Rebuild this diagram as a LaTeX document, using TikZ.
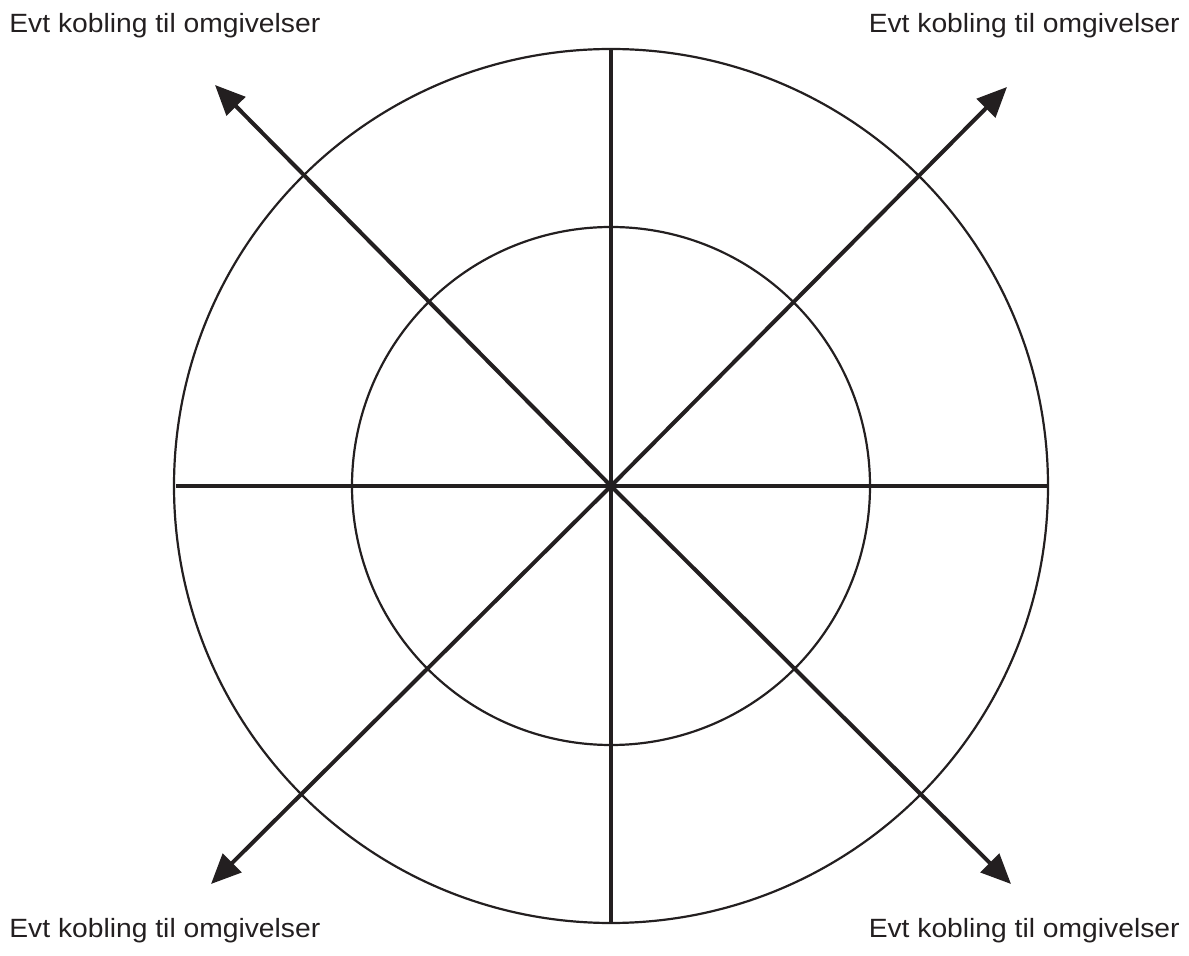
\documentclass[tikz,border=0pt]{standalone}
\usepackage{fontspec}
\setmainfont{Liberation Sans}[FakeStretch=1.07]
\usetikzlibrary{arrows.meta}
\definecolor{ink}{HTML}{231F20}
\begin{document}
\begin{tikzpicture}[x=0.5pt,y=-0.5pt,
  ring/.style={draw=ink,line width=1.1pt},
  spoke/.style={draw=ink,line width=2pt},
  ray/.style={draw=ink,line width=2pt,-{Triangle[length=15pt,width=13pt]}},
  lab/.style={text=ink,font=\fontsize{13.2pt}{15pt}\selectfont,inner sep=0pt}]
\useasboundingbox (0,0) rectangle (1189,956);
\coordinate (c) at (611,486);
\draw[ring] (c) circle[radius=218.5pt];
\draw[ring] (c) circle[radius=129.5pt];
\coordinate (t) at (611,50);
\coordinate (b) at (611,923);
\coordinate (l) at (176,486);
\coordinate (r) at (1049,486);
\draw[spoke] (t) -- (b);
\draw[spoke] (l) -- (r);
\coordinate (tl) at (215,85);
\coordinate (tr) at (1007,87);
\coordinate (bl) at (211,884);
\coordinate (br) at (1011,884);
\draw[ray] (c) -- (tl);
\draw[ray] (c) -- (tr);
\draw[ray] (c) -- (bl);
\draw[ray] (c) -- (br);
\node[lab,anchor=base west] (ltl) at (9,33) {Evt kobling til omgivelser};
\node[lab,anchor=base east] (ltr) at (1180,33) {Evt kobling til omgivelser};
\node[lab,anchor=base west] (lbl) at (9,937) {Evt kobling til omgivelser};
\node[lab,anchor=base east] (lbr) at (1180,937) {Evt kobling til omgivelser};
\end{tikzpicture}
\end{document}
